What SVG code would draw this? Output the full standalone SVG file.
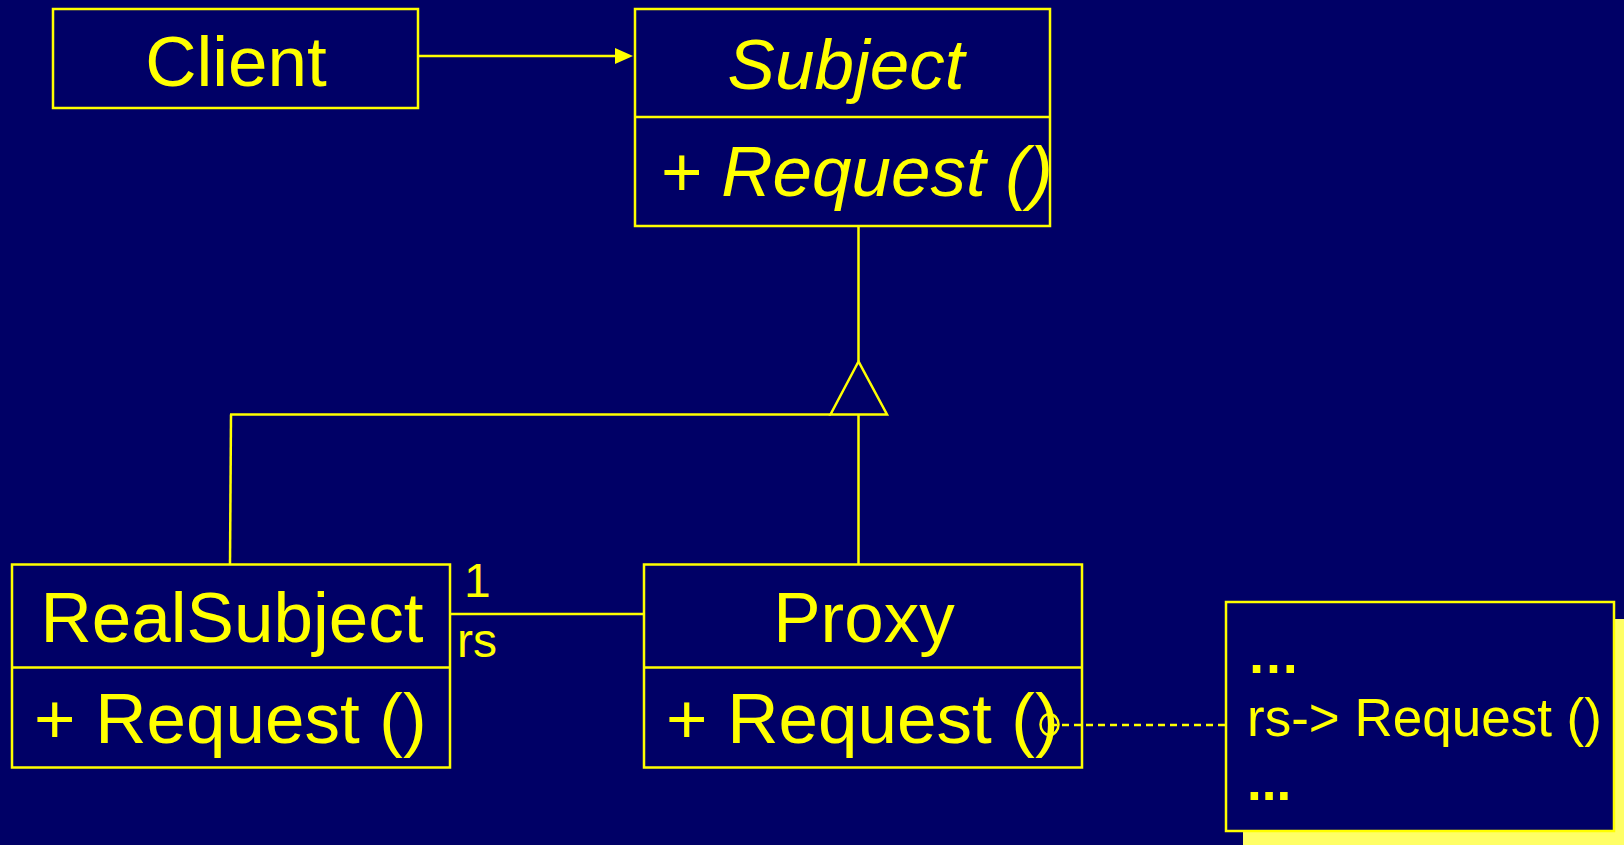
<svg xmlns="http://www.w3.org/2000/svg" width="1624" height="845" viewBox="0 0 1624 845">
<style>
.box{fill:#000066;stroke:#FFFF00;stroke-width:2.5}
.ln{stroke:#FFFF00;stroke-width:2.5;fill:none}
.t{font-family:"Liberation Sans",Arial,sans-serif;fill:#FFFF00;font-size:71px}
.it{font-style:italic}
.m{text-anchor:middle}
.s{font-size:48px}
.n{font-size:53px}
</style>
<rect x="0" y="0" width="1624" height="845" fill="#000066"/>
<g id="client">
<rect class="box" x="53" y="9" width="365" height="99"/>
<text class="t m" x="236" y="86">Client</text>
</g>
<g id="subject">
<rect class="box" x="635" y="9" width="415" height="217"/>
<line class="ln" x1="635" y1="117" x2="1050" y2="117"/>
<text class="t it m" x="846" y="89">Subject</text>
<text class="t it" x="660" y="196">+ Request ()</text>
</g>
<g id="realsubject">
<rect class="box" x="12" y="564.5" width="438" height="203"/>
<line class="ln" x1="12" y1="667.5" x2="450" y2="667.5"/>
<text class="t m" x="232" y="642">RealSubject</text>
<text class="t" x="34" y="743">+ Request ()</text>
</g>
<g id="proxy">
<rect class="box" x="644" y="564.5" width="438" height="203"/>
<line class="ln" x1="644" y1="667.5" x2="1082" y2="667.5"/>
<text class="t m" x="864" y="642">Proxy</text>
<text class="t" x="666" y="743">+ Request ()</text>
</g>
<g id="note">
<rect x="1243" y="619" width="400" height="240" fill="#FFFF66"/>
<rect class="box" x="1226" y="602" width="388" height="229"/>
<text class="t n" x="1247" y="673" font-weight="bold">…</text>
<text class="t n" x="1247" y="736">rs-&gt; Request ()</text>
<text class="t n" x="1247" y="800" font-weight="bold">...</text>
</g>
<g id="connectors">
<line class="ln" x1="418" y1="56" x2="616" y2="56"/>
<polygon points="615,48 633,56 615,64" fill="#FFFF00"/>
<line class="ln" x1="858.5" y1="226" x2="858.5" y2="361.5"/>
<line class="ln" x1="230" y1="414.5" x2="831" y2="414.5"/>
<polygon class="ln" points="858.5,361.5 830.5,414.5 887,414.5"/>
<line class="ln" x1="231" y1="414.5" x2="230" y2="564.5"/>
<line class="ln" x1="858.5" y1="414.5" x2="858.5" y2="564.5"/>
<line class="ln" x1="450" y1="614" x2="644" y2="614"/>
<text class="t s" x="464" y="597">1</text>
<text class="t s" x="457" y="657">rs</text>
<line class="ln" x1="1050" y1="725" x2="1226" y2="725" stroke-dasharray="7 5" stroke-width="2"/>
<ellipse class="ln" cx="1049.5" cy="724.5" rx="9" ry="10.5" stroke-width="2"/>
</g>
</svg>
